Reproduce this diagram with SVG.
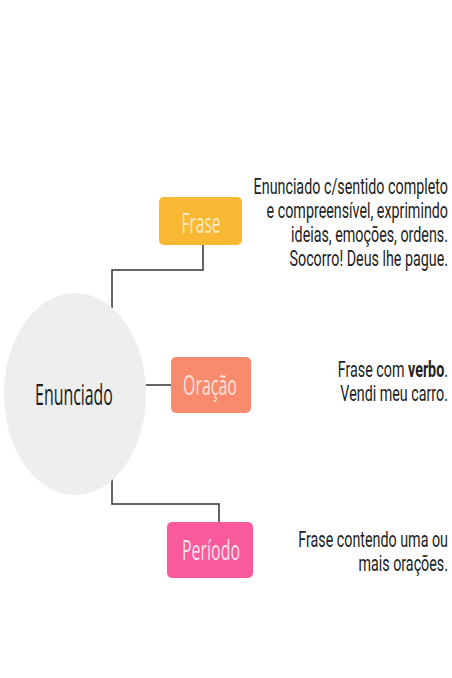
<svg xmlns="http://www.w3.org/2000/svg" width="452" height="678" viewBox="0 0 452 678">
<style>
.conn{fill:none;stroke:#333333;stroke-width:1.5}
.lbl{font-family:"Open Sans","Noto Sans",sans-serif;text-anchor:middle}
.box-lbl{font-size:27px}
.desc{font-family:Roboto,"Liberation Sans",sans-serif;font-size:22px;fill:#222222;text-anchor:end}
</style>
<rect width="452" height="678" fill="#ffffff"/>
<g id="connectors">
<polyline class="conn" points="203,245 203,270 112,270 112,308"/>
<polyline class="conn" points="146,385 171,385"/>
<polyline class="conn" points="112,478 112,504 219,504 219,522"/>
</g>
<g id="enunciado">
<ellipse cx="75" cy="394" rx="71" ry="101" fill="#eeeeee"/>
<text class="lbl" font-size="30" fill="#1a1a1a" transform="translate(74,405) scale(0.53,1)">Enunciado</text>
</g>
<g id="frase">
<rect x="159" y="197" width="83" height="48" rx="5" fill="#f8b833"/>
<text class="lbl box-lbl" fill="#fdebc4" font-size="26" transform="translate(201,233) scale(0.575,1)">Frase</text>
<g transform="translate(448,0) scale(0.65,1)">
<text class="desc" x="0" y="194">Enunciado c/sentido completo</text>
<text class="desc" x="0" y="218">e compreensível, exprimindo</text>
<text class="desc" x="0" y="242">ideias, emoções, ordens.</text>
<text class="desc" x="0" y="266">Socorro! Deus lhe pague.</text>
</g>
</g>
<g id="oracao">
<rect x="171" y="357" width="80" height="56" rx="5" fill="#f88a6d"/>
<text class="lbl box-lbl" fill="#fde2d8" transform="translate(210,395) scale(0.59,1)">Oração</text>
<g transform="translate(448,0) scale(0.65,1)">
<text class="desc" x="0" y="377">Frase com <tspan font-weight="bold">verbo</tspan>.</text>
<text class="desc" x="0" y="401">Vendi meu carro.</text>
</g>
</g>
<g id="periodo">
<rect x="167" y="522" width="86" height="56" rx="5" fill="#f85a9c"/>
<text class="lbl box-lbl" fill="#fde0ec" transform="translate(211,560) scale(0.59,1)">Período</text>
<g transform="translate(448,0) scale(0.65,1)">
<text class="desc" x="0" y="547">Frase contendo uma ou</text>
<text class="desc" x="0" y="571">mais orações.</text>
</g>
</g>
</svg>
